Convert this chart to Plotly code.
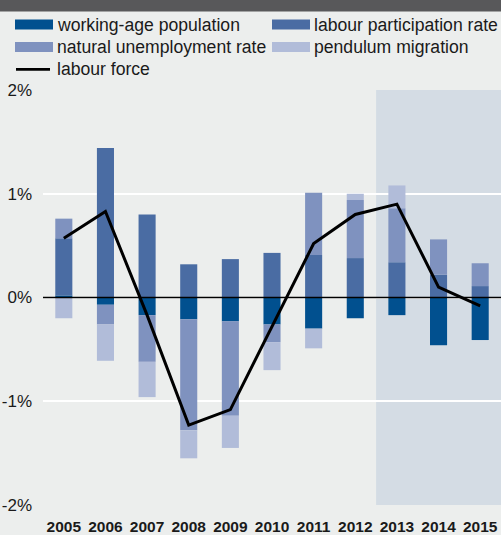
import plotly.graph_objects as go

# Contributions to labour force growth, percentage points
years = ["2005", "2006", "2007", "2008", "2009", "2010",
         "2011", "2012", "2013", "2014", "2015"]
working_age = [0.02, -0.07, -0.17, -0.21, -0.23, -0.26, -0.30, -0.20, -0.17, -0.46, -0.41]
participation = [0.55, 1.44, 0.80, 0.32, 0.37, 0.43, 0.41, 0.38, 0.34, 0.22, 0.11]
unemployment = [0.19, -0.19, -0.45, -1.07, -0.91, -0.17, 0.60, 0.56, 0.52, 0.34, 0.22]
pendulum = [-0.20, -0.35, -0.34, -0.27, -0.31, -0.27, -0.19, 0.06, 0.22, 0.0, 0.0]
labour_force = [0.57, 0.83, -0.17, -1.23, -1.08, -0.28, 0.52, 0.80, 0.90, 0.10, -0.08]

y_ticks = [-2, -1, 0, 1, 2]
y_tick_text = ["-2%", "-1%", "0%", "1%", "2%"]
forecast_start = "2013"

series = [
    ("working-age population", working_age, "#01508f"),
    ("labour participation rate", participation, "#4a6ca3"),
    ("natural unemployment rate", unemployment, "#7f92bf"),
    ("pendulum migration", pendulum, "#b1bcd9"),
]

FONT = "Liberation Sans, Arial, sans-serif"
W_PX, H_PX = 501, 535
M_L, M_T, M_B = 43, 90, 28
PLOT_W = W_PX - M_L
PLOT_H = H_PX - M_T - M_B


def px_x(p):
    return (p - M_L) / PLOT_W


def px_y(p):
    return (M_T + PLOT_H - p) / PLOT_H


fig = go.Figure()
for name, vals, color in series:
    fig.add_trace(go.Bar(
        x=years, y=vals, name=name, marker_color=color,
        marker_line_width=0, width=0.41, showlegend=False,
    ))

fig.add_trace(go.Scatter(
    x=years, y=labour_force, name="labour force", mode="lines",
    line=dict(color="black", width=3), showlegend=False,
))

shapes = []
# forecast period shading
idx = years.index(forecast_start)
shapes.append(dict(type="rect", xref="x", yref="y",
                   x0=idx - 0.5, x1=len(years) - 0.5, y0=-2.02, y1=2,
                   fillcolor="#d4dce4", line_width=0, layer="below"))
# zero line over the bars
shapes.append(dict(type="line", xref="paper", yref="y", x0=0, x1=1, y0=0, y1=0,
                   line=dict(color="black", width=1.5), layer="above"))
# dark header band
shapes.append(dict(type="rect", xref="paper", yref="paper",
                   x0=px_x(0), x1=px_x(W_PX), y0=px_y(11), y1=px_y(-2),
                   fillcolor="#58585a", line_width=0))

annotations = []
legend_pos = [(15, 24.2), (272, 24.2), (15, 46.7), (272, 46.7)]
for (name, _, color), (lx, ly) in zip(series, legend_pos):
    shapes.append(dict(type="rect", xref="paper", yref="paper",
                       x0=px_x(lx), x1=px_x(lx + 38),
                       y0=px_y(ly + 5), y1=px_y(ly - 5),
                       fillcolor=color, line_width=0))
    annotations.append(dict(x=px_x(lx + 40), y=px_y(ly), xref="paper", yref="paper",
                            text=name, showarrow=False, xanchor="left",
                            yanchor="middle", font=dict(size=17.6, color="#1a1a1a")))
shapes.append(dict(type="line", xref="paper", yref="paper",
                   x0=px_x(16), x1=px_x(50), y0=px_y(69.3), y1=px_y(69.3),
                   line=dict(color="black", width=2.6)))
annotations.append(dict(x=px_x(55), y=px_y(69), xref="paper", yref="paper",
                        text="labour force", showarrow=False, xanchor="left",
                        yanchor="middle", font=dict(size=17.6, color="#1a1a1a")))

fig.update_layout(
    width=W_PX, height=H_PX,
    margin=dict(l=M_L, r=0, t=M_T, b=M_B, pad=0),
    barmode="relative",
    paper_bgcolor="#eceeed", plot_bgcolor="#eceeed",
    font=dict(family=FONT, color="#1a1a1a"),
    shapes=shapes, annotations=annotations,
    showlegend=False,
)
fig.update_xaxes(
    type="category", range=[-0.5, len(years) - 0.5],
    showgrid=False, zeroline=False, showline=False, ticks="",
    tickfont=dict(size=15.5, family="Liberation Sans, Arial, sans-serif", weight="bold"),
    ticklabelstandoff=10,
)
fig.update_yaxes(
    range=[-2, 2], tickvals=y_ticks, ticktext=y_tick_text,
    showgrid=True, gridcolor="white", gridwidth=1.5,
    zeroline=False, showline=False, ticks="",
    tickfont=dict(size=17), ticklabelstandoff=10,
)

fig.write_html("out.html")
